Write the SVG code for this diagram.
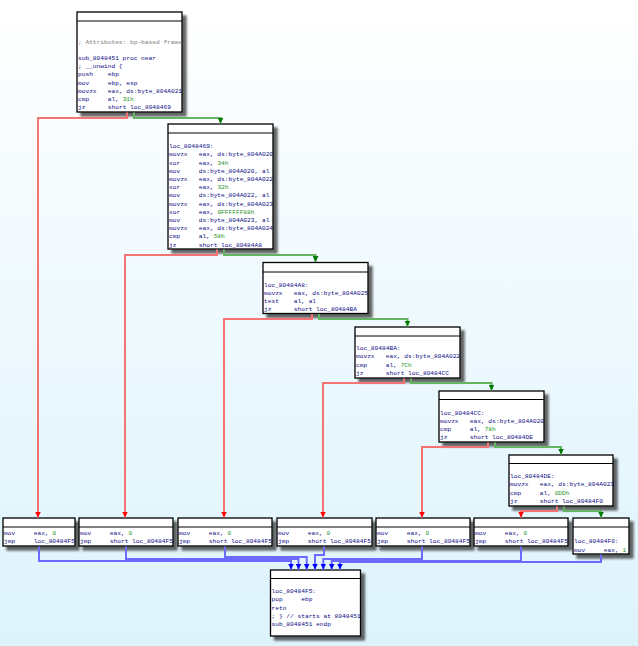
<svg xmlns="http://www.w3.org/2000/svg" width="638" height="646" viewBox="0 0 638 646">
<defs>
<linearGradient id="bg" x1="0" y1="0" x2="0" y2="1">
<stop offset="0" stop-color="#ffffff"/>
<stop offset="1" stop-color="#ddf3fc"/>
</linearGradient>
<filter id="sh" x="-20%" y="-20%" width="150%" height="150%">
<feDropShadow dx="4" dy="4" stdDeviation="1.3" flood-color="#303030" flood-opacity="0.75"/>
</filter>
<marker id="ar" viewBox="0 0 6 6" refX="6" refY="3" markerWidth="6" markerHeight="6" markerUnits="userSpaceOnUse" orient="auto"><path d="M0,0 L6,3 L0,6 z" fill="#ff0000"/></marker>
<marker id="ag" viewBox="0 0 6 6" refX="6" refY="3" markerWidth="6" markerHeight="6" markerUnits="userSpaceOnUse" orient="auto"><path d="M0,0 L6,3 L0,6 z" fill="#007a00"/></marker>
<marker id="ab" viewBox="0 0 6 6" refX="6" refY="3" markerWidth="6" markerHeight="6" markerUnits="userSpaceOnUse" orient="auto"><path d="M0,0 L6,3 L0,6 z" fill="#0000ff"/></marker>
<style>
.box{fill:#ffffff;stroke:#000000;stroke-width:1.3;filter:url(#sh)}
.hd{stroke:#000000;stroke-width:1}
text{font-family:"Liberation Mono","DejaVu Sans Mono",monospace;font-size:6.2px;fill:#0c0c84}
.n{fill:#1f941f}
.c{fill:#7c7c7c}
.er{fill:none;stroke:#f47474;stroke-width:2;marker-end:url(#ar)}
.eg{fill:none;stroke:#64b464;stroke-width:2;marker-end:url(#ag)}
.eb{fill:none;stroke:#6a6aff;stroke-width:2;marker-end:url(#ab)}
</style>
</defs>
<rect x="0" y="0" width="638" height="646" fill="url(#bg)"/>

<g id="node_sub_8048451">
<rect class="box" x="77" y="12" width="105" height="100"/>
<line class="hd" x1="77" y1="21" x2="182" y2="21"/>
<text x="78" y="43.6" class="c">; Attributes: bp-based frame</text>
<text x="78" y="60">sub_8048451 proc near</text>
<text x="78" y="68.2">; __unwind {</text>
<text x="78" y="76.4">push</text><text x="107.8" y="76.4">ebp</text>
<text x="78" y="84.6">mov</text><text x="107.8" y="84.6">ebp, esp</text>
<text x="78" y="92.8">movzx</text><text x="107.8" y="92.8">eax, ds:byte_804A021</text>
<text x="78" y="101">cmp</text><text x="107.8" y="101">al, <tspan class="n">31h</tspan></text>
<text x="78" y="109.2">jz</text><text x="107.8" y="109.2">short loc_8048469</text>
</g>

<g id="node_loc_8048469">
<rect class="box" x="168" y="124" width="105" height="125"/>
<line class="hd" x1="168" y1="133" x2="273" y2="133"/>
<text x="169" y="148.2">loc_8048469:</text>
<text x="169" y="156.4">movzx</text><text x="198.8" y="156.4">eax, ds:byte_804A020</text>
<text x="169" y="164.6">xor</text><text x="198.8" y="164.6">eax, <tspan class="n">34h</tspan></text>
<text x="169" y="172.8">mov</text><text x="198.8" y="172.8">ds:byte_804A020, al</text>
<text x="169" y="181">movzx</text><text x="198.8" y="181">eax, ds:byte_804A022</text>
<text x="169" y="189.2">xor</text><text x="198.8" y="189.2">eax, <tspan class="n">32h</tspan></text>
<text x="169" y="197.4">mov</text><text x="198.8" y="197.4">ds:byte_804A022, al</text>
<text x="169" y="205.6">movzx</text><text x="198.8" y="205.6">eax, ds:byte_804A023</text>
<text x="169" y="213.8">xor</text><text x="198.8" y="213.8">eax, <tspan class="n">0FFFFFF88h</tspan></text>
<text x="169" y="222">mov</text><text x="198.8" y="222">ds:byte_804A023, al</text>
<text x="169" y="230.2">movzx</text><text x="198.8" y="230.2">eax, ds:byte_804A024</text>
<text x="169" y="238.4">cmp</text><text x="198.8" y="238.4">al, <tspan class="n">58h</tspan></text>
<text x="169" y="246.6">jz</text><text x="198.8" y="246.6">short loc_80484A8</text>
</g>

<g id="node_loc_80484A8">
<rect class="box" x="263" y="262.5" width="105" height="51"/>
<line class="hd" x1="263" y1="272" x2="368" y2="272"/>
<text x="264" y="286.7">loc_80484A8:</text>
<text x="264" y="294.9">movzx</text><text x="293.8" y="294.9">eax, ds:byte_804A025</text>
<text x="264" y="303.1">test</text><text x="293.8" y="303.1">al, al</text>
<text x="264" y="311.3">jz</text><text x="293.8" y="311.3">short loc_80484BA</text>
</g>

<g id="node_loc_80484BA">
<rect class="box" x="355" y="327" width="105" height="51"/>
<line class="hd" x1="355" y1="336" x2="460" y2="336"/>
<text x="356" y="350.2">loc_80484BA:</text>
<text x="356" y="358.4">movzx</text><text x="385.8" y="358.4">eax, ds:byte_804A022</text>
<text x="356" y="366.6">cmp</text><text x="385.8" y="366.6">al, <tspan class="n">7Ch</tspan></text>
<text x="356" y="374.8">jz</text><text x="385.8" y="374.8">short loc_80484CC</text>
</g>

<g id="node_loc_80484CC">
<rect class="box" x="439" y="391" width="105" height="51"/>
<line class="hd" x1="439" y1="399.5" x2="544" y2="399.5"/>
<text x="440" y="414.7">loc_80484CC:</text>
<text x="440" y="422.9">movzx</text><text x="469.8" y="422.9">eax, ds:byte_804A020</text>
<text x="440" y="431.1">cmp</text><text x="469.8" y="431.1">al, <tspan class="n">78h</tspan></text>
<text x="440" y="439.3">jz</text><text x="469.8" y="439.3">short loc_80484DE</text>
</g>

<g id="node_loc_80484DE">
<rect class="box" x="509" y="455" width="104" height="51"/>
<line class="hd" x1="509" y1="463.5" x2="613" y2="463.5"/>
<text x="510" y="478.2">loc_80484DE:</text>
<text x="510" y="486.4">movzx</text><text x="539.8" y="486.4">eax, ds:byte_804A023</text>
<text x="510" y="494.6">cmp</text><text x="539.8" y="494.6">al, <tspan class="n">0DDh</tspan></text>
<text x="510" y="502.8">jz</text><text x="539.8" y="502.8">short loc_80484F0</text>
</g>

<g id="node_fail_1">
<rect class="box" x="3" y="518" width="72" height="28"/>
<line class="hd" x1="3" y1="527" x2="75" y2="527"/>
<text x="4" y="535.2">mov</text><text x="33.8" y="535.2">eax, <tspan class="n">0</tspan></text>
<text x="4" y="543.4">jmp</text><text x="33.8" y="543.4">loc_80484F5</text>
</g>

<g id="node_fail_2">
<rect class="box" x="79" y="518" width="94" height="28"/>
<line class="hd" x1="79" y1="527" x2="173" y2="527"/>
<text x="80" y="535.2">mov</text><text x="109.8" y="535.2">eax, <tspan class="n">0</tspan></text>
<text x="80" y="543.4">jmp</text><text x="109.8" y="543.4">short loc_80484F5</text>
</g>

<g id="node_fail_3">
<rect class="box" x="178" y="518" width="94" height="28"/>
<line class="hd" x1="178" y1="527" x2="272" y2="527"/>
<text x="179" y="535.2">mov</text><text x="208.8" y="535.2">eax, <tspan class="n">0</tspan></text>
<text x="179" y="543.4">jmp</text><text x="208.8" y="543.4">short loc_80484F5</text>
</g>

<g id="node_fail_4">
<rect class="box" x="277" y="518" width="95" height="28"/>
<line class="hd" x1="277" y1="527" x2="372" y2="527"/>
<text x="278" y="535.2">mov</text><text x="307.8" y="535.2">eax, <tspan class="n">0</tspan></text>
<text x="278" y="543.4">jmp</text><text x="307.8" y="543.4">short loc_80484F5</text>
</g>

<g id="node_fail_5">
<rect class="box" x="376" y="518" width="94" height="28"/>
<line class="hd" x1="376" y1="527" x2="470" y2="527"/>
<text x="377" y="535.2">mov</text><text x="406.8" y="535.2">eax, <tspan class="n">0</tspan></text>
<text x="377" y="543.4">jmp</text><text x="406.8" y="543.4">short loc_80484F5</text>
</g>

<g id="node_fail_6">
<rect class="box" x="474" y="518" width="94" height="28"/>
<line class="hd" x1="474" y1="527" x2="568" y2="527"/>
<text x="475" y="535.2">mov</text><text x="504.8" y="535.2">eax, <tspan class="n">0</tspan></text>
<text x="475" y="543.4">jmp</text><text x="504.8" y="543.4">short loc_80484F5</text>
</g>

<g id="node_loc_80484F0">
<rect class="box" x="573" y="518" width="56" height="36"/>
<line class="hd" x1="573" y1="527" x2="629" y2="527"/>
<text x="574" y="543.4">loc_80484F0:</text>
<text x="574" y="551.6">mov</text><text x="603.8" y="551.6">eax, <tspan class="n">1</tspan></text>
</g>

<g id="node_loc_80484F5">
<rect class="box" x="270.5" y="570" width="90" height="66"/>
<line class="hd" x1="270.5" y1="578.5" x2="360.5" y2="578.5"/>
<text x="271.5" y="593.2">loc_80484F5:</text>
<text x="271.5" y="601.4">pop</text><text x="301.3" y="601.4">ebp</text>
<text x="271.5" y="609.6">retn</text>
<text x="271.5" y="617.8">; } // starts at 8048451</text>
<text x="271.5" y="626">sub_8048451 endp</text>
</g>

<g id="connectors">
<path class="er" d="M127,112.5 V118 H38 V517.5"/>
<path class="eg" d="M134,112.5 V118 H220.5 V123.5"/>
<path class="er" d="M217,249.5 V255 H125 V517.5"/>
<path class="eg" d="M224,249.5 V255 H315.5 V262"/>
<path class="er" d="M312,314 V319 H224 V517.5"/>
<path class="eg" d="M319,314 V319 H407.5 V326.5"/>
<path class="er" d="M404,378.5 V383 H323 V517.5"/>
<path class="eg" d="M411,378.5 V383 H491.5 V390.5"/>
<path class="er" d="M488,442.5 V447 H422 V517.5"/>
<path class="eg" d="M495,442.5 V447 H561 V454.5"/>
<path class="er" d="M557,506.5 V511 H521 V517.5"/>
<path class="eg" d="M564,506.5 V511 H601 V517.5"/>
<path class="eb" d="M39,546.5 V561 H291 V569.5"/>
<path class="eb" d="M126,546.5 V559 H298.5 V569.5"/>
<path class="eb" d="M225,546.5 V557 H306.7 V569.5"/>
<path class="eb" d="M324,546.5 V555 H315 V569.5"/>
<path class="eb" d="M422,546.5 V559 H323.3 V569.5"/>
<path class="eb" d="M521,546.5 V561 H331.7 V569.5"/>
<path class="eb" d="M601,554.5 V562 H340 V569.5"/>
</g>
</svg>
